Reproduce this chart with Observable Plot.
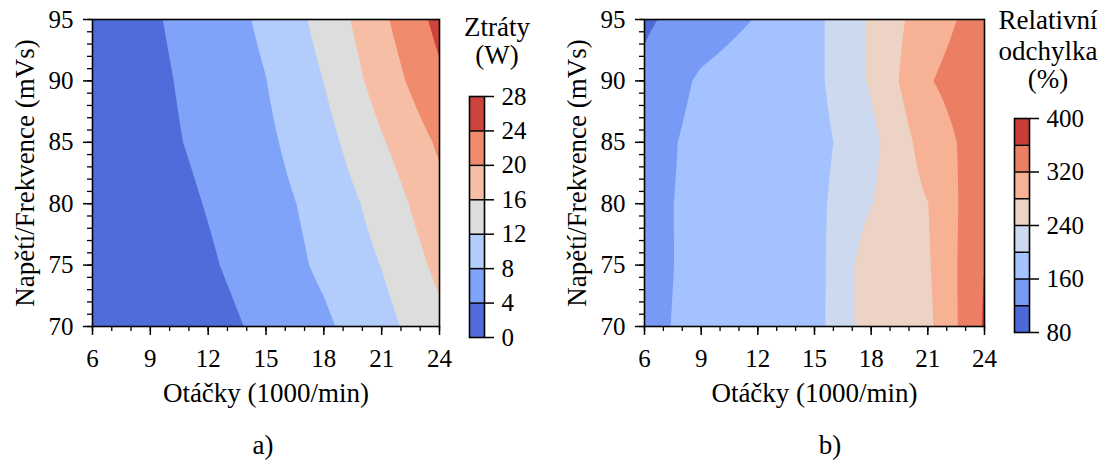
<!DOCTYPE html>
<html>
<head>
<meta charset="utf-8">
<script src="https://cdn.jsdelivr.net/npm/d3@7"></script>
<script src="https://cdn.jsdelivr.net/npm/@observablehq/plot@0.6"></script>
<style>
  html, body { margin: 0; padding: 0; background: #fff; }
  #root { position: relative; width: 1108px; height: 461px; overflow: hidden; background: #fff; color: #000; }
  .abs { position: absolute; }
  .ttl { position: absolute; text-align: center; white-space: nowrap; transform: translate(-50%, -50%); line-height: 1; }
</style>
</head>
<body>
<div id="root"></div>
<script>
// ---------- data ----------
const speed = [6, 9, 12, 15, 18, 21, 24];          // Otáčky (1000/min)
const vf = [70, 75, 80, 85, 90, 95];                // Napětí/Frekvence (mVs)

// a) Ztráty (W), rows = vf, columns = speed
const lossRow70 = [0.2, 0.4, 2.45, 4.97, 7.35, 10.6, 15.0];
const lossRow75 = [0.2, 1.0, 3.5, 6.0, 8.68, 12.1, 17.0];
const lossRow80 = [0.3, 1.92, 4.23, 6.54, 9.31, 13.54, 18.8];
const lossRow85 = [0.45, 2.72, 4.98, 7.25, 10.62, 15.63, 20.6];
const lossRow90 = [0.55, 3.0, 5.48, 7.94, 12.05, 17.7, 23.3];
const lossRow95 = [1.0, 3.47, 5.94, 8.71, 13.3, 19.2, 25.2];

// b) Relativní odchylka (%), rows = vf, columns = speed
const devRow70 = [150, 171.7, 178, 185.3, 262.7, 270.6, 364.4];
const devRow75 = [148, 171, 177, 184.2, 263.2, 275.7, 360.8];
const devRow80 = [146, 173.1, 180, 189.0, 238.9, 279.3, 355];
const devRow85 = [140, 174.1, 180, 185.6, 228.8, 298.6, 340.3];
const devRow90 = [128, 166, 185, 190.1, 245.1, 317.3, 345];
const devRow95 = [114.4, 138.4, 162.4, 190.1, 245.1, 303.3, 335.8];

const levelsA = [0, 4, 8, 12, 16, 20, 24, 28];
const colorsA = ["#506cda", "#80a3fa", "#b2ccfb", "#dddddd", "#f6bfa5", "#f08b6d", "#ce433b"];
const cbTicksA = [0, 4, 8, 12, 16, 20, 24, 28];

const levelsB = [80, 120, 160, 200, 240, 280, 320, 360, 400];
const colorsB = ["#4d68d7", "#779af7", "#a3c2ff", "#ccd9ee", "#ecd3c5", "#f7b194", "#ec7f63", "#cb3e38"];
const cbTicksB = [80, 160, 240, 320, 400];

const xTicks = [6, 9, 12, 15, 18, 21, 24];
const yTicks = [70, 75, 80, 85, 90, 95];
const xMinor = [6,7,8,9,10,11,12,13,14,15,16,17,18,19,20,21,22,23,24];
const yMinor = [70,71,72,73,74,75,76,77,78,79,80,81,82,83,84,85,86,87,88,89,90,91,92,93,94,95];

const xLabel = "Otáčky (1000/min)";
const yLabel = "Napětí/Frekvence (mVs)";

const lossGrid = [lossRow70, lossRow75, lossRow80, lossRow85, lossRow90, lossRow95];
const devGrid = [devRow70, devRow75, devRow80, devRow85, devRow90, devRow95];

// ---------- helpers ----------
const FONT = "'Liberation Serif', 'Times New Roman', serif";
const NUM = 25;   // tick label size
const WORD = 27;  // label size

function gridValue(xs, ys, Z) {
  return (x, y) => {
    const i = Math.max(0, Math.min(xs.length - 2, d3.bisectRight(xs, x) - 1));
    const j = Math.max(0, Math.min(ys.length - 2, d3.bisectRight(ys, y) - 1));
    const tx = (x - xs[i]) / (xs[i + 1] - xs[i]);
    const ty = (y - ys[j]) / (ys[j + 1] - ys[j]);
    const a = Z[j][i] * (1 - tx) + Z[j][i + 1] * tx;
    const b = Z[j + 1][i] * (1 - tx) + Z[j + 1][i + 1] * tx;
    return a * (1 - ty) + b * ty;
  };
}

const axisText = { fontSize: NUM, fontFamily: FONT, fontVariant: "normal", label: null };

function panel(Z, levels, colors, marginRight) {
  return Plot.plot({
    width: 460, height: 410,
    marginLeft: 92, marginRight, marginTop: 19, marginBottom: 84,
    style: { fontFamily: FONT, fontSize: NUM + "px", color: "#000", background: "transparent", overflow: "visible" },
    x: { domain: [6, 24] },
    y: { domain: [70, 95] },
    color: { type: "threshold", domain: levels.slice(1, -1), range: colors },
    marks: [
      Plot.contour({ fill: gridValue(speed, vf, Z), x1: 6, x2: 24, y1: 70, y2: 95, thresholds: levels, stroke: "none" }),
      Plot.frame({ stroke: "#000", strokeWidth: 1.6 }),
      Plot.axisX(xMinor, { tickSize: 5, tickFormat: () => "", strokeWidth: 1.3, label: null }),
      Plot.axisX(xTicks, { tickSize: 9, tickPadding: 14, strokeWidth: 1.5, ...axisText }),
      Plot.axisY(yMinor, { tickSize: 5, tickFormat: () => "", strokeWidth: 1.3, label: null }),
      Plot.axisY(yTicks, { tickSize: 9, tickPadding: 10, strokeWidth: 1.5, ...axisText }),
      Plot.text([xLabel], { text: d => d, frameAnchor: "bottom", lineAnchor: "middle", textAnchor: "middle", dy: 67, fontSize: WORD, fontFamily: FONT, fill: "#000" }),
      Plot.text([yLabel], { text: d => d, frameAnchor: "left", lineAnchor: "middle", textAnchor: "middle", rotate: -90, dx: -67, fontSize: WORD, fontFamily: FONT, fill: "#000" })
    ]
  });
}

function colorbar(levels, colors, ticks, width, marginTop, marginBottom) {
  const bands = colors.map((c, i) => ({ lo: levels[i], hi: levels[i + 1], c }));
  return Plot.plot({
    width, height: 360,
    marginLeft: 29, marginRight: width - 44, marginTop, marginBottom,
    style: { fontFamily: FONT, fontSize: NUM + "px", color: "#000", background: "transparent", overflow: "visible" },
    x: { domain: [0, 1], axis: null },
    y: { domain: [levels[0], levels[levels.length - 1]] },
    marks: [
      Plot.rect(bands, { x1: 0, x2: 1, y1: "lo", y2: "hi", fill: "c" }),
      Plot.ruleY(levels.slice(1, -1), { stroke: "#000", strokeWidth: 1.5 }),
      Plot.frame({ stroke: "#000", strokeWidth: 1.6 }),
      Plot.axisY(ticks, { anchor: "right", tickSize: 9, tickPadding: 8, strokeWidth: 1.5, ...axisText })
    ]
  });
}

function inlineFonts(svg) {
  svg.querySelectorAll("text").forEach(t => {
    t.removeAttribute("font-variant");
    t.style.fontVariant = "normal";
    t.style.fontVariantNumeric = "normal";
    t.style.fontFamily = FONT;
    let el = t, size = null;
    while (el && el !== svg.parentNode) {
      if (el.getAttribute && el.getAttribute("font-size")) { size = el.getAttribute("font-size"); break; }
      el = el.parentNode;
    }
    if (size) t.style.fontSize = /px$/.test(size) ? size : size + "px";
  });
  svg.querySelectorAll("g").forEach(g => {
    if (g.getAttribute("font-variant")) { g.removeAttribute("font-variant"); g.style.fontVariant = "normal"; }
  });
}

function place(el, left, top) {
  el.classList.add("abs");
  el.style.left = left + "px";
  el.style.top = top + "px";
  root.appendChild(el);
  inlineFonts(el);
}
function title(text, x, y, size) {
  const d = document.createElement("div");
  d.className = "ttl";
  d.textContent = text;
  d.style.left = x + "px";
  d.style.top = y + "px";
  d.style.fontFamily = FONT;
  d.style.fontSize = size + "px";
  root.appendChild(d);
}

const root = document.getElementById("root");
place(panel(lossGrid, levelsA, colorsA, 21), 0, 0);
place(panel(devGrid, levelsB, colorsB, 28), 552, 0);
place(colorbar(levelsA, colorsA, cbTicksA, 110, 96, 23), 440, 0);
place(colorbar(levelsB, colorsB, cbTicksB, 123, 118, 28), 985, 0);

title("Ztráty", 497, 27, WORD);
title("(W)", 497, 55, WORD);
title("Relativní", 1048, 20, WORD);
title("odchylka", 1048, 51, WORD);
title("(%)", 1048, 79, WORD);
title("a)", 263, 445, WORD);
title("b)", 830, 445, WORD);
</script>
</body>
</html>
